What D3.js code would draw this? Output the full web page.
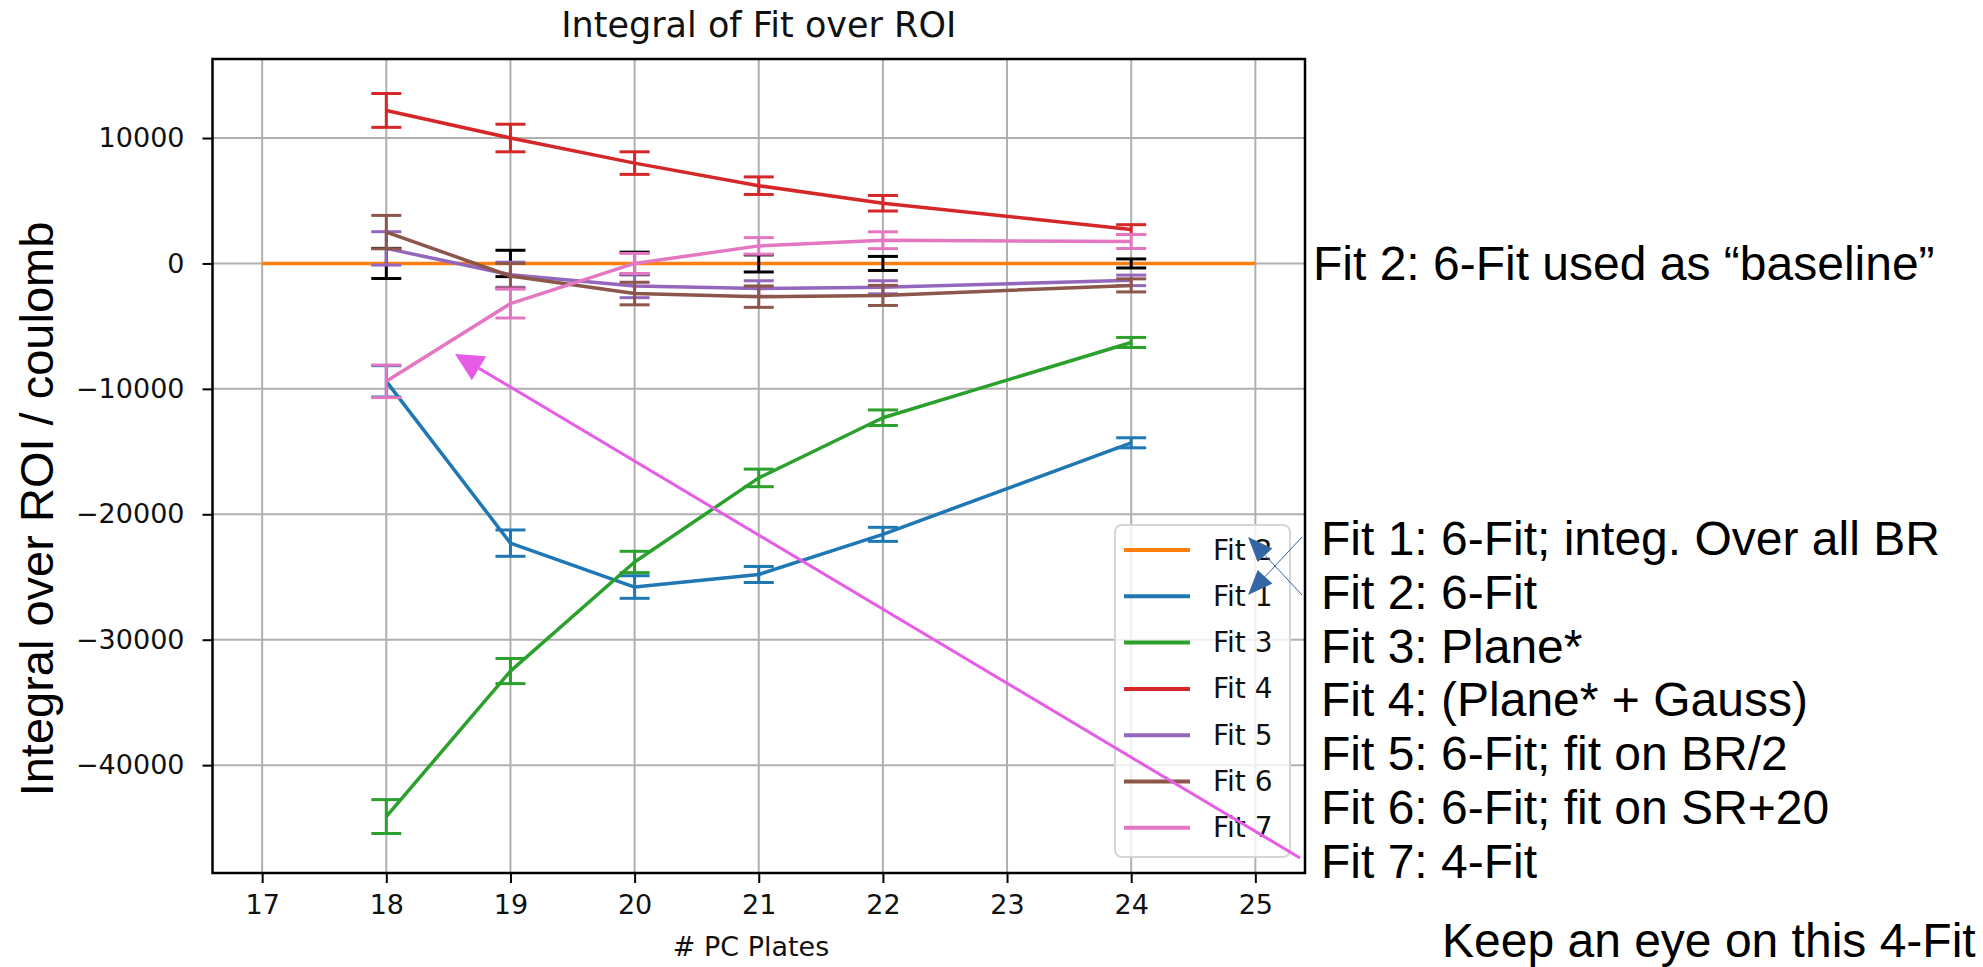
<!DOCTYPE html>
<html>
<head>
<meta charset="utf-8">
<script src="https://cdn.jsdelivr.net/npm/d3@7"></script>
<style>
    body { margin: 0; background: #ffffff; }
    svg { display: block; }
</style>
</head>
<body>
<svg id="chart_svg"></svg>
<script>
"use strict";

const width = 1983;
const height = 967;

// plot box (pixels)
const plot_left = 212.5;
const plot_right = 1305;
const plot_top = 59;
const plot_bottom = 873;

const x_domain = [16.6, 25.4];
const y_domain = [-48600, 16300];

const cap_half = 15;
const line_width = 3.5;

// data
const plates = [18, 19, 20, 21, 22, 24];
const baseline_x = [17, 25];
const baseline_y = [0, 0];
const fit2_err = [1200, 1050, 900, 680, 560, 360];

const fit1 = [-9400, -22300, -25800, -24800, -21600, -14300];
const fit1_err = [1250, 1050, 900, 640, 560, 400];
const fit3 = [-44100, -32500, -23800, -17100, -12300, -6300];
const fit3_err = [1350, 1000, 850, 700, 620, 400];
const fit4 = [12200, 10000, 8000, 6200, 4800, 2700];
const fit4_err = [1350, 1100, 900, 700, 620, 390];
const fit5 = [1200, -900, -1800, -2000, -1900, -1350];
const fit5_err = [1330, 1000, 930, 620, 520, 420];
const fit6 = [2500, -1000, -2400, -2650, -2550, -1750];
const fit6_err = [1330, 1000, 900, 850, 800, 520];
const fit7 = [-9400, -3200, 0, 1400, 1850, 1750];
const fit7_err = [1300, 1150, 800, 660, 670, 560];

const x_ticks = [17, 18, 19, 20, 21, 22, 23, 24, 25];
const y_ticks = [-40000, -30000, -20000, -10000, 0, 10000];

const legend_names = ["Fit 2", "Fit 1", "Fit 3", "Fit 4", "Fit 5", "Fit 6", "Fit 7"];
const legend_colors = ["#ff7f0e", "#1f77b4", "#2ca02c", "#d62728", "#9467bd", "#8c564b", "#e377c2"];

const note_lines = [
    "Fit 1: 6-Fit; integ. Over all BR",
    "Fit 2: 6-Fit",
    "Fit 3: Plane*",
    "Fit 4: (Plane* + Gauss)",
    "Fit 5: 6-Fit; fit on BR/2",
    "Fit 6: 6-Fit; fit on SR+20",
    "Fit 7: 4-Fit"
];


const svg1 = d3.select("#chart_svg")
    .attr("width", width)
    .attr("height", height);

const xScale = d3.scaleLinear().domain(x_domain).range([plot_left, plot_right]);
const yScale = d3.scaleLinear().domain(y_domain).range([plot_bottom, plot_top]);

// grid
const grid = svg1.append("g");
grid.selectAll(".gx")
    .data(x_ticks)
    .enter()
    .append("line")
    .attr("x1", d => xScale(d)).attr("x2", d => xScale(d))
    .attr("y1", plot_top).attr("y2", plot_bottom)
    .attr("stroke", "#b0b0b0").attr("stroke-width", 2);
grid.selectAll(".gy")
    .data(y_ticks)
    .enter()
    .append("line")
    .attr("x1", plot_left).attr("x2", plot_right)
    .attr("y1", d => yScale(d)).attr("y2", d => yScale(d))
    .attr("stroke", "#b0b0b0").attr("stroke-width", 2);

// axes
const xAxis = svg1.append("g")
    .attr("transform", `translate(0, ${plot_bottom})`)
    .call(d3.axisBottom(xScale).tickValues(x_ticks).tickSize(10).tickPadding(12).tickFormat(d3.format("d")));
const yAxis = svg1.append("g")
    .attr("transform", `translate(${plot_left}, 0)`)
    .call(d3.axisLeft(yScale).tickValues(y_ticks).tickSize(10).tickPadding(18).tickFormat(d => d < 0 ? "\u2212" + Math.abs(d) : d));

[xAxis, yAxis].forEach(ax => {
    ax.select(".domain").remove();
    ax.selectAll(".tick line").attr("stroke", "#000").attr("stroke-width", 2);
    ax.selectAll(".tick text")
        .attr("fill", "#111")
        .style("font-family", "DejaVu Sans")
        .style("font-size", "27px");
});


// series
function drawSeries(xs, ys, errs, color, err_color) {
    const g = svg1.append("g");
    const line = d3.line().x((d, i) => xScale(xs[i])).y(d => yScale(d));
    g.append("path")
        .datum(ys)
        .attr("d", line)
        .attr("fill", "none")
        .attr("stroke", color)
        .attr("stroke-width", line_width)
        .attr("stroke-linejoin", "round");
    if (!errs) return;
    const eb = g.selectAll(".eb")
        .data(ys.map((d, i) => ({ x: xs[i], v: d, e: errs[i] })))
        .enter()
        .append("g")
        .attr("stroke", err_color || color)
        .attr("stroke-width", 3);
    eb.append("line")
        .attr("x1", d => xScale(d.x)).attr("x2", d => xScale(d.x))
        .attr("y1", d => yScale(d.v - d.e)).attr("y2", d => yScale(d.v + d.e));
    eb.append("line")
        .attr("x1", d => xScale(d.x) - cap_half).attr("x2", d => xScale(d.x) + cap_half)
        .attr("y1", d => yScale(d.v + d.e)).attr("y2", d => yScale(d.v + d.e));
    eb.append("line")
        .attr("x1", d => xScale(d.x) - cap_half).attr("x2", d => xScale(d.x) + cap_half)
        .attr("y1", d => yScale(d.v - d.e)).attr("y2", d => yScale(d.v - d.e));
}

drawSeries(baseline_x, baseline_y, null, "#ff7f0e");
drawSeries(plates, plates.map(() => 0), fit2_err, "none", "#000000");
drawSeries(plates, fit1, fit1_err, "#1f77b4");
drawSeries(plates, fit3, fit3_err, "#2ca02c");
drawSeries(plates, fit4, fit4_err, "#d62728");
drawSeries(plates, fit5, fit5_err, "#9467bd");
drawSeries(plates, fit6, fit6_err, "#8c564b");
drawSeries(plates, fit7, fit7_err, "#e377c2");

// spines
svg1.append("rect")
    .attr("x", plot_left).attr("y", plot_top)
    .attr("width", plot_right - plot_left).attr("height", plot_bottom - plot_top)
    .attr("fill", "none").attr("stroke", "#000").attr("stroke-width", 2.5);

// legend
const legend = svg1.append("g");
legend.append("rect")
    .attr("x", 1115).attr("y", 525).attr("width", 175).attr("height", 332)
    .attr("rx", 7)
    .attr("fill", "#ffffff").attr("fill-opacity", 0.8)
    .attr("stroke", "#d6d6d6").attr("stroke-width", 2);
const legend_item = legend.selectAll(".item")
    .data(legend_names)
    .enter()
    .append("g")
    .attr("transform", (d, i) => `translate(0, ${550 + i * 46.3})`);
legend_item.append("line")
    .attr("x1", 1124).attr("x2", 1190).attr("y1", 0).attr("y2", 0)
    .attr("stroke", (d, i) => legend_colors[i])
    .attr("stroke-width", 4);
legend_item.append("text")
    .attr("x", 1213).attr("y", 0)
    .attr("dominant-baseline", "central")
    .text(d => d)
    .style("font-family", "DejaVu Sans")
    .style("font-size", "28px")
    .style("fill", "#111");

// titles
svg1.append("text")
    .attr("x", (plot_left + plot_right) / 2).attr("y", 37)
    .attr("text-anchor", "middle")
    .text("Integral of Fit over ROI")
    .style("font-family", "DejaVu Sans")
    .style("font-size", "35px")
    .style("fill", "#111");

svg1.append("text")
    .attr("x", 751).attr("y", 956)
    .attr("text-anchor", "middle")
    .text("# PC Plates")
    .style("font-family", "DejaVu Sans")
    .style("font-size", "27px")
    .style("fill", "#111");

svg1.append("text")
    .attr("transform", "translate(53, 509) rotate(-90)")
    .attr("text-anchor", "middle")
    .text("Integral over ROI / coulomb")
    .style("font-family", "Liberation Sans")
    .style("font-size", "47px")
    .style("fill", "#000");


// slide notes
const notes = svg1.append("g")
    .style("font-family", "Liberation Sans")
    .style("font-size", "48px")
    .style("fill", "#000");

notes.append("text").attr("x", 1313).attr("y", 280).text("Fit 2: 6-Fit used as \u201cbaseline\u201d");
notes.selectAll(".note")
    .data(note_lines)
    .enter()
    .append("text")
    .attr("x", 1321)
    .attr("y", (d, i) => 555 + i * 53.8)
    .text(d => d);
notes.append("text").attr("x", 1442).attr("y", 957).text("Keep an eye on this 4-Fit");


// arrows drawn on the slide
const arrows = [
    { from: [1300, 858], to: [455, 354], color: "#e65ce6", width: 3, head_len: 28, head_half: 14 },
    { from: [1302, 595], to: [1248, 537], color: "#3465a4", width: 1, head_len: 25, head_half: 10 },
    { from: [1302, 537], to: [1248, 595], color: "#3465a4", width: 1, head_len: 25, head_half: 10 }
];

function arrowHead(a) {
    const dx = a.from[0] - a.to[0];
    const dy = a.from[1] - a.to[1];
    const len = Math.hypot(dx, dy);
    const ux = dx / len, uy = dy / len;
    const bx = a.to[0] + ux * a.head_len, by = a.to[1] + uy * a.head_len;
    return [
        a.to,
        [bx - uy * a.head_half, by + ux * a.head_half],
        [bx + uy * a.head_half, by - ux * a.head_half]
    ];
}

const arrow_g = svg1.append("g");
arrows.forEach(a => {
    const head = arrowHead(a);
    const bx = (head[1][0] + head[2][0]) / 2, by = (head[1][1] + head[2][1]) / 2;
    arrow_g.append("line")
        .attr("x1", a.from[0]).attr("y1", a.from[1])
        .attr("x2", bx).attr("y2", by)
        .attr("stroke", a.color).attr("stroke-width", a.width);
    arrow_g.append("polygon")
        .attr("points", head.map(p => p.join(",")).join(" "))
        .attr("fill", a.color);
});
</script>
</body>
</html>
